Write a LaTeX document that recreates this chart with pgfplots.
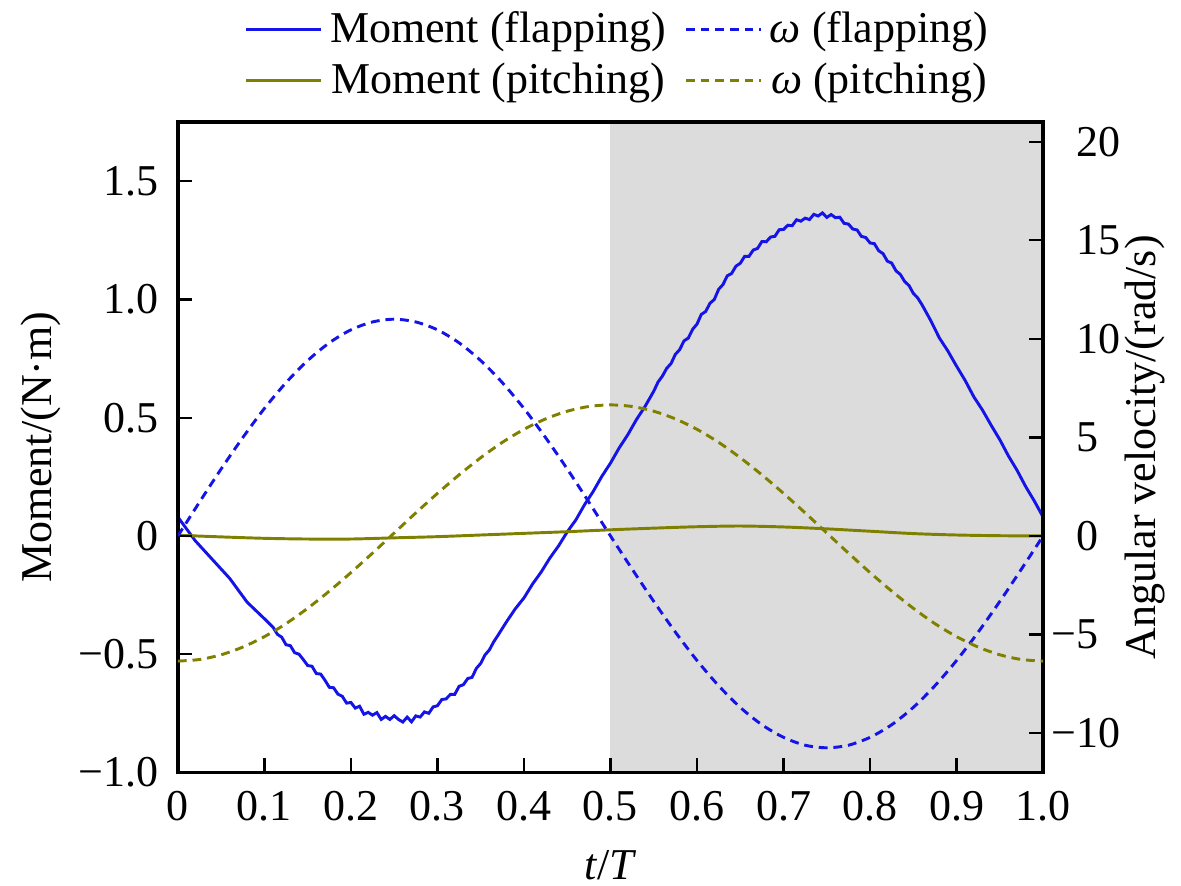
\documentclass[border=0pt]{standalone}
\usepackage{fontspec}
\IfFontExistsTF{LiberationSerif-Regular.ttf}
  {\setmainfont{LiberationSerif}[Extension=.ttf,UprightFont=*-Regular,ItalicFont=*-Italic,BoldFont=*-Bold,BoldItalicFont=*-BoldItalic]}
  {\setmainfont{Liberation Serif}}
\usepackage{pgfplots}
\pgfplotsset{compat=1.18}
\definecolor{fblue}{RGB}{20,20,230}
\definecolor{folive}{RGB}{128,128,0}
\definecolor{shade}{RGB}{220,220,220}

\begin{document}
\begin{tikzpicture}[font=\rmfamily\fontsize{12}{14.4}\selectfont]
\pgfplotsset{
  every axis/.append style={
    scale only axis, width=235.9pt, height=177.3pt,
    xmin=0, xmax=1,
    axis line style={-, line width=0.9pt},
    every tick/.style={line width=0.6pt, black},
    major tick length=3.8pt,
    tick align=inside,
  },
  mflap/.style={fblue, line width=0.8pt},
  mpitch/.style={folive, line width=0.8pt},
  wflap/.style={fblue, line width=0.8pt, dash pattern=on 2.4pt off 1.6pt},
  wpitch/.style={folive, line width=0.8pt, dash pattern=on 2.4pt off 1.6pt},
}
\begin{axis}[
  ymin=-1, ymax=1.75,
  xtick={0,0.1,0.2,0.3,0.4,0.5,0.6,0.7,0.8,0.9,1.0},
  xticklabels={0,0.1,0.2,0.3,0.4,0.5,0.6,0.7,0.8,0.9,1.0},
  ytick={-1,-0.5,0,0.5,1,1.5},
  yticklabels={−1.0,−0.5,0,0.5,1.0,1.5},
  xtick pos=bottom, ytick pos=left,
  yticklabel style={xshift=-1.7pt},
  xticklabel style={yshift=-1.5pt},
  axis on top,
  xlabel={\textit{t}/\textit{T}},
  xlabel style={at={(axis description cs:0.5,-0.143)}, anchor=center},
  ylabel={Moment/(N·m)},
  ylabel style={at={(axis description cs:-0.158,0.5)}, anchor=center},
  legend columns=2,
  legend style={at={(axis description cs:0.511,1.103)}, anchor=center,
    draw=none, fill=none,
    /tikz/every even column/.append style={column sep=3pt}},
  legend image code/.code={\draw[#1] (0pt,0pt) -- (20.5pt,0pt);},
]
\coordinate (ll) at (rel axis cs:0,0);
\coordinate (ur) at (rel axis cs:1,1);
\addplot[fill=shade, draw=none, forget plot] coordinates {(0.5,-1) (1,-1) (1,1.75) (0.5,1.75)} -- cycle;

\addplot[mflap] coordinates {
(0.00,0.08) (0.01,0.03) (0.02,-0.02) (0.03,-0.06) (0.04,-0.10) (0.05,-0.14)
(0.06,-0.18) (0.07,-0.23) (0.08,-0.28) (0.09,-0.315) (0.10,-0.35)
(0.110,-0.386) (0.115,-0.416) (0.120,-0.428) (0.125,-0.46) (0.130,-0.464)
(0.135,-0.494) (0.140,-0.50) (0.145,-0.523) (0.150,-0.548) (0.155,-0.551)
(0.160,-0.582) (0.165,-0.584) (0.170,-0.61) (0.175,-0.64) (0.180,-0.642)
(0.185,-0.669) (0.190,-0.678) (0.195,-0.707) (0.200,-0.704) (0.205,-0.728)
(0.210,-0.72) (0.215,-0.754) (0.220,-0.746) (0.225,-0.758) (0.230,-0.747)
(0.235,-0.776) (0.240,-0.763) (0.245,-0.776) (0.250,-0.76) (0.255,-0.776)
(0.260,-0.787) (0.265,-0.766) (0.270,-0.786) (0.275,-0.761) (0.280,-0.766)
(0.285,-0.744) (0.290,-0.75) (0.295,-0.723) (0.300,-0.718) (0.305,-0.692)
(0.310,-0.689) (0.315,-0.67) (0.320,-0.67) (0.325,-0.636) (0.330,-0.629)
(0.335,-0.603) (0.340,-0.598) (0.345,-0.56) (0.350,-0.539) (0.355,-0.503)
(0.360,-0.482) (0.365,-0.448) (0.370,-0.42)
(0.38,-0.362) (0.39,-0.308) (0.40,-0.262) (0.41,-0.203) (0.42,-0.152)
(0.43,-0.093) (0.44,-0.042) (0.45,0.017) (0.46,0.068) (0.47,0.132)
(0.48,0.188) (0.49,0.252) (0.50,0.308) (0.51,0.372) (0.52,0.428)
(0.53,0.492) (0.54,0.548)
(0.550,0.612) (0.555,0.651) (0.560,0.676) (0.565,0.709) (0.570,0.729)
(0.575,0.768) (0.580,0.788) (0.585,0.825) (0.590,0.837) (0.595,0.874)
(0.600,0.896) (0.605,0.937) (0.610,0.949) (0.615,0.984) (0.620,1.00)
(0.625,1.043) (0.630,1.063) (0.635,1.10) (0.640,1.11) (0.645,1.141)
(0.650,1.153) (0.655,1.182) (0.660,1.182) (0.665,1.209) (0.670,1.216)
(0.675,1.245) (0.680,1.244) (0.685,1.264) (0.690,1.267) (0.695,1.295)
(0.700,1.296) (0.705,1.314) (0.710,1.312) (0.715,1.337) (0.720,1.331)
(0.725,1.344) (0.730,1.338) (0.735,1.36) (0.740,1.353) (0.745,1.366)
(0.750,1.347) (0.755,1.359) (0.760,1.346) (0.765,1.348) (0.770,1.322)
(0.775,1.319) (0.780,1.298) (0.785,1.294) (0.790,1.267) (0.795,1.262)
(0.800,1.239) (0.805,1.236) (0.810,1.206) (0.815,1.194) (0.820,1.162)
(0.825,1.154) (0.830,1.121) (0.835,1.106) (0.840,1.076) (0.845,1.059)
(0.850,1.026) (0.855,1.007) (0.860,0.978)
(0.87,0.912) (0.88,0.838) (0.89,0.782) (0.90,0.718) (0.91,0.657)
(0.92,0.588) (0.93,0.532) (0.94,0.468) (0.95,0.407) (0.96,0.338)
(0.97,0.277) (0.98,0.208) (0.99,0.147) (1.00,0.08)
};
\addlegendentry{Moment (flapping)}
\addlegendimage{wflap}
\addlegendentry{\textit{ω} (flapping)}

\addplot[mpitch, smooth] coordinates {
(0,0.003) (0.05,-0.004) (0.1,-0.010) (0.15,-0.013) (0.2,-0.013)
(0.25,-0.008) (0.3,-0.003) (0.35,0.004) (0.4,0.011) (0.45,0.018)
(0.5,0.026) (0.55,0.033) (0.6,0.039) (0.65,0.042) (0.7,0.038)
(0.75,0.030) (0.8,0.020) (0.85,0.010) (0.9,0.004) (0.95,0.001) (1.0,0.000)
};
\addlegendentry{Moment (pitching)}
\addlegendimage{wpitch}
\addlegendentry{\textit{ω} (pitching)}
\end{axis}

\begin{axis}[
  ymin=-12, ymax=21,
  axis x line=none,
  axis y line*=right,
  ytick pos=right,
  tick align=inside,
  ytick={-10,-5,0,5,10,15,20},
  yticklabels={−10,−5,\phantom{−}0,\phantom{−}5,\phantom{−}10,\phantom{−}15,\phantom{−}20},
  yticklabel style={xshift=-1.3pt},
  ylabel={Angular velocity/(rad/s)},
  ylabel style={at={(axis description cs:1.118,0.5)}, anchor=center},
]
\addplot[wflap, smooth] coordinates {
(0,0) (0.025,1.72) (0.05,3.40) (0.075,4.99) (0.1,6.47) (0.125,7.78)
(0.15,8.90) (0.175,9.80) (0.2,10.46) (0.225,10.86) (0.25,11.0)
(0.275,10.86) (0.3,10.46) (0.325,9.80) (0.35,8.90) (0.375,7.78)
(0.4,6.47) (0.425,4.99) (0.45,3.40) (0.475,1.72) (0.5,0)
(0.525,-1.68) (0.55,-3.32) (0.575,-4.88) (0.6,-6.32) (0.625,-7.60)
(0.65,-8.70) (0.675,-9.58) (0.7,-10.22) (0.725,-10.62) (0.75,-10.75)
(0.775,-10.62) (0.8,-10.22) (0.825,-9.58) (0.85,-8.70) (0.875,-7.60)
(0.9,-6.32) (0.925,-4.88) (0.95,-3.32) (0.975,-1.68) (1.0,0)
};
\addplot[wpitch, smooth] coordinates {
(0,-6.35) (0.025,-6.27) (0.05,-6.03) (0.075,-5.64) (0.1,-5.11) (0.125,-4.45)
(0.15,-3.67) (0.175,-2.80) (0.2,-1.86) (0.225,-0.87) (0.25,0.15)
(0.275,1.17) (0.3,2.16) (0.325,3.10) (0.35,3.97) (0.375,4.75)
(0.4,5.41) (0.425,5.94) (0.45,6.33) (0.475,6.57) (0.5,6.65)
(0.525,6.57) (0.55,6.33) (0.575,5.94) (0.6,5.41) (0.625,4.75)
(0.65,3.97) (0.675,3.10) (0.7,2.16) (0.725,1.17) (0.75,0.15)
(0.775,-0.87) (0.8,-1.86) (0.825,-2.80) (0.85,-3.67) (0.875,-4.45)
(0.9,-5.11) (0.925,-5.64) (0.95,-6.03) (0.975,-6.27) (1.0,-6.35)
};
\end{axis}
\pgfresetboundingbox
\path[use as bounding box] ([xshift=-48.5pt,yshift=-30.8pt]ll) rectangle ([xshift=37.6pt,yshift=33.3pt]ur);
\end{tikzpicture}
\end{document}
